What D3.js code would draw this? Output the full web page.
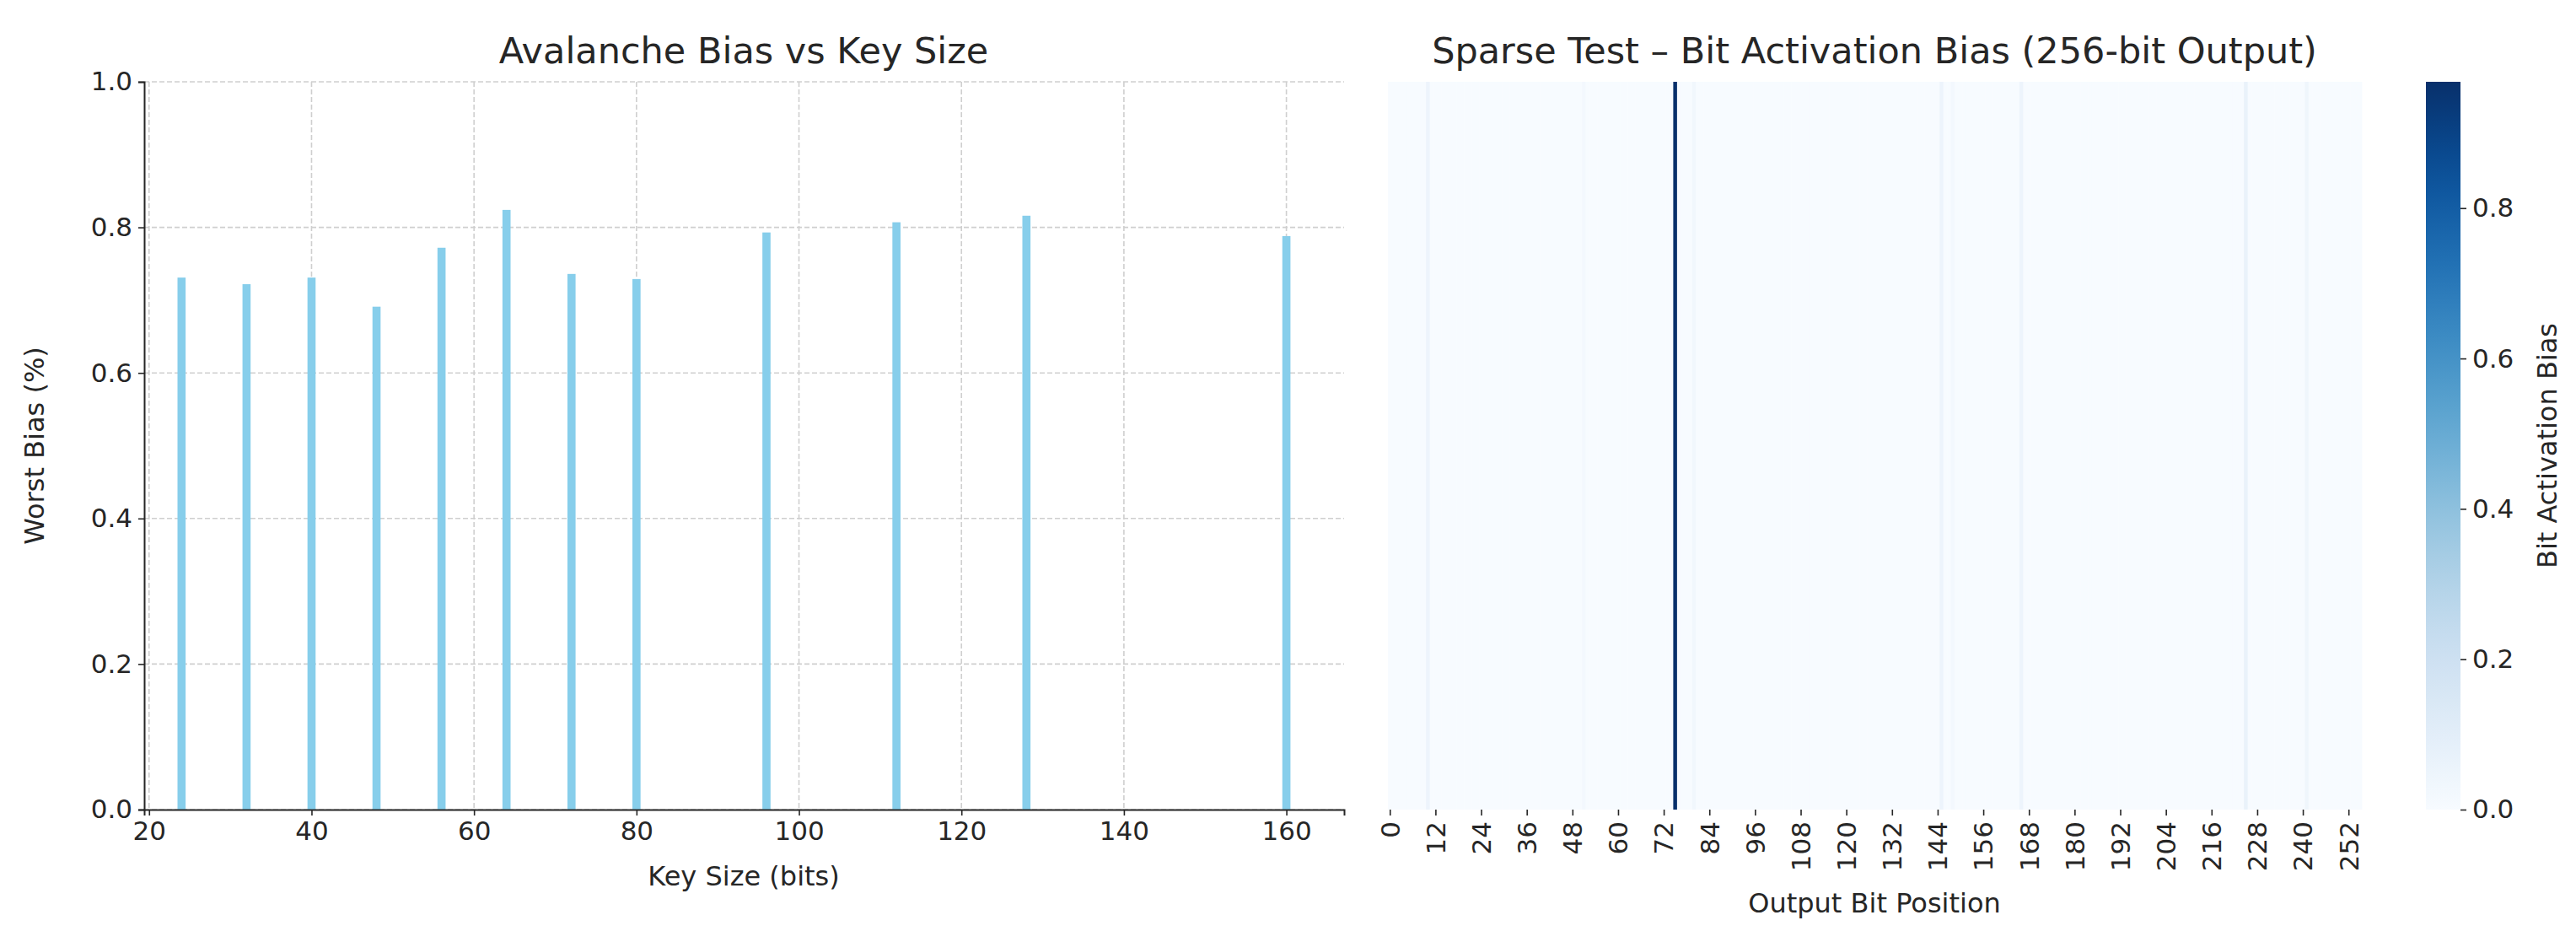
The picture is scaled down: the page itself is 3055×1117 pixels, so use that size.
<!DOCTYPE html>
<html>
<head>
<meta charset="utf-8">
<script src="https://cdn.jsdelivr.net/npm/d3@7"></script>
<style>
  body { margin: 0; background: #fff; }
  text { font-family: "DejaVu Sans", sans-serif; fill: #262626; }
</style>
</head>
<body>
<svg id="chart" width="3055" height="1117"></svg>
<script>
// left panel data
const keySizes = [24, 32, 40, 48, 56, 64, 72, 80, 96, 112, 128, 160];
const worstBias = [0.731, 0.722, 0.731, 0.691, 0.772, 0.824, 0.736, 0.729, 0.793, 0.807, 0.816, 0.788];
const biasTicks = [0, 0.2, 0.4, 0.6, 0.8, 1.0];
const keyTicks = [20, 40, 60, 80, 100, 120, 140, 160];

// right panel data: bits that are not zero bias
const hotBits = [10, 51, 75, 80, 145, 148, 166, 225, 241];
const hotValues = [0.05, 0.02, 0.968, 0.03, 0.05, 0.02, 0.05, 0.07, 0.04];
const bitTicks = d3.range(0, 256, 12);
const cbarTicks = [0, 0.2, 0.4, 0.6, 0.8];

const bitBias = new Array(256).fill(0);
hotBits.forEach((b, i) => { bitBias[b] = hotValues[i]; });

const svg = d3.select('#chart');
const plotTop = 97, plotBottom = 960;

// ---------- left: bar chart ----------
const x = d3.scaleLinear().domain([19.4, 167.1]).range([171, 1594]);
const y = d3.scaleLinear().domain([0, 1]).range([plotBottom, plotTop]);
const left = svg.append('g');

left.append('g').selectAll('line').data(keyTicks).join('line')
  .attr('x1', d => x(d)).attr('x2', d => x(d)).attr('y1', plotTop).attr('y2', plotBottom)
  .attr('stroke', '#cfcfcf').attr('stroke-width', 1.6).attr('stroke-dasharray', '6,3');
left.append('g').selectAll('line').data(biasTicks).join('line')
  .attr('x1', 171).attr('x2', 1594).attr('y1', d => y(d)).attr('y2', d => y(d))
  .attr('stroke', '#cfcfcf').attr('stroke-width', 1.6).attr('stroke-dasharray', '6,3');

left.append('g').selectAll('rect').data(keySizes).join('rect')
  .attr('x', d => x(d - 0.5)).attr('width', x(1) - x(0))
  .attr('y', (d, i) => y(worstBias[i])).attr('height', (d, i) => plotBottom - y(worstBias[i]))
  .attr('fill', '#87ceeb');

const xAxis = left.append('g').attr('transform', `translate(0,${plotBottom})`)
  .call(d3.axisBottom(x).tickValues(keyTicks).tickSize(7).tickPadding(7));
const yAxis = left.append('g').attr('transform', 'translate(171,0)')
  .call(d3.axisLeft(y).tickValues(biasTicks).tickFormat(d3.format('.1f')).tickSize(7).tickPadding(7));
[xAxis, yAxis].forEach(a => {
  a.selectAll('text').attr('font-size', 31).style('fill', '#262626');
  a.selectAll('line').attr('stroke', '#262626').attr('stroke-width', 1.6);
  a.select('.domain').attr('stroke', '#262626').attr('stroke-width', 2);
});

left.append('text').attr('x', 882).attr('y', 75).attr('text-anchor', 'middle')
  .attr('font-size', 43).text('Avalanche Bias vs Key Size');
left.append('text').attr('x', 882).attr('y', 1050).attr('text-anchor', 'middle')
  .attr('font-size', 32).text('Key Size (bits)');
left.append('text').attr('transform', `translate(52,${(plotTop + plotBottom) / 2}) rotate(-90)`)
  .attr('text-anchor', 'middle').attr('font-size', 32).text('Worst Bias (%)');

// ---------- right: heatmap ----------
const hx = d3.scaleLinear().domain([0, 256]).range([1646, 2801]);
const color = d3.scaleSequential(d3.interpolateBlues).domain([0, 0.968]);
const right = svg.append('g');

right.append('g').selectAll('rect').data(bitBias).join('rect')
  .attr('x', (d, i) => hx(i)).attr('width', hx(1) - hx(0) + 0.4)
  .attr('y', plotTop).attr('height', plotBottom - plotTop)
  .attr('fill', d => color(d));

const hAxis = right.append('g').attr('transform', `translate(0,${plotBottom})`)
  .call(d3.axisBottom(hx).tickValues(bitTicks.map(d => d + 0.5)).tickFormat(d => d - 0.5)
    .tickSize(7).tickPadding(7));
hAxis.select('.domain').remove();
hAxis.selectAll('line').attr('stroke', '#262626').attr('stroke-width', 1.6);
hAxis.selectAll('text').attr('font-size', 31).style('fill', '#262626')
  .attr('transform', 'rotate(-90)').attr('text-anchor', 'end')
  .attr('x', -14).attr('y', 0).attr('dy', '0.35em');

right.append('text').attr('x', 2223).attr('y', 75).attr('text-anchor', 'middle')
  .attr('font-size', 43).text('Sparse Test – Bit Activation Bias (256-bit Output)');
right.append('text').attr('x', 2223).attr('y', 1082).attr('text-anchor', 'middle')
  .attr('font-size', 32).text('Output Bit Position');

// colorbar
const cy = d3.scaleLinear().domain([0, 0.968]).range([plotBottom, plotTop]);
const grad = svg.append('defs').append('linearGradient').attr('id', 'cb')
  .attr('x1', 0).attr('y1', 1).attr('x2', 0).attr('y2', 0);
d3.range(0, 1.0001, 0.05).forEach(t => {
  grad.append('stop').attr('offset', t).attr('stop-color', d3.interpolateBlues(t));
});
right.append('rect').attr('x', 2877).attr('y', plotTop).attr('width', 41).attr('height', plotBottom - plotTop)
  .attr('fill', 'url(#cb)');
const cAxis = right.append('g').attr('transform', 'translate(2918,0)')
  .call(d3.axisRight(cy).tickValues(cbarTicks).tickFormat(d3.format('.1f')).tickSize(7).tickPadding(7));
cAxis.select('.domain').remove();
cAxis.selectAll('line').attr('stroke', '#262626').attr('stroke-width', 1.6);
cAxis.selectAll('text').attr('font-size', 31).style('fill', '#262626');
right.append('text').attr('transform', `translate(3032,${(plotTop + plotBottom) / 2}) rotate(-90)`)
  .attr('text-anchor', 'middle').attr('font-size', 32).text('Bit Activation Bias');
</script>
</body>
</html>
